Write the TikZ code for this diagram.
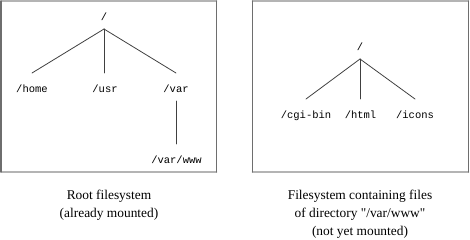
\documentclass[tikz,border=0pt]{standalone}
\usepackage{fontspec}
\setmainfont{Liberation Serif}
\setmonofont{Liberation Mono}
\usetikzlibrary{calc}

\definecolor{framelight}{HTML}{B4B4B4}
\definecolor{framedark}{HTML}{6E6E6E}

\begin{document}
\begin{tikzpicture}[
    x=1pt, y=-1pt,
    line cap=round,
    line join=round,
    dir/.style={font=\fontsize{10.5}{12}\selectfont\ttfamily, anchor=base,
        inner sep=0pt, text height=10pt, text depth=0pt, outer ysep=9pt},
    branch/.style={draw=black!75, line width=0.8pt},
    caption/.style={font=\fontsize{13.4}{18}\selectfont, align=center,
        anchor=base, inner sep=0pt}
]

% -----------------------
% Page
% -----------------------
\useasboundingbox (0,0) rectangle (470,239);

% -----------------------
% Frames
% -----------------------
\def\ftop{1}
\def\fbot{172}
\foreach \xa/\xb in {1/216.5, 252.5/468.5} {
    \draw[framelight, line width=1.6pt] (\xa,\ftop) -- (\xb,\ftop);
    \draw[framelight, line width=1.6pt] (\xa,\fbot) -- (\xb,\fbot);
    \draw[framedark, line width=1.2pt] (\xa,\ftop) -- (\xa,\fbot);
    \draw[framedark, line width=1.2pt] (\xb,\ftop) -- (\xb,\fbot);
}

% -----------------------
% Root filesystem
% -----------------------
\node[dir] (root)   at (104,20)  {/};
\node[dir] (home)   at (32,92)   {/home};
\node[dir] (usr)    at (105,92)  {/usr};
\node[dir] (var)    at (176,92)  {/var};
\node[dir] (varwww) at (176.5,163) {/var/www};

\draw[branch] (root.south) -- (home.north);
\draw[branch] (root.south) -- (usr.north -| root.south);
\draw[branch] (root.south) -- (var.north);
\draw[branch] (var.south) -- (varwww.north -| var.south);

% -----------------------
% Filesystem to mount
% -----------------------
\node[dir] (wroot)  at (360,50)  {/};
\node[dir] (cgibin) at (306,118) {/cgi-bin};
\node[dir] (html)   at (360.5,118) {/html};
\node[dir] (icons)  at (415,118) {/icons};

\draw[branch] (wroot.south) -- (cgibin.north);
\draw[branch] (wroot.south) -- (html.north -| wroot.south);
\draw[branch] (wroot.south) -- (icons.north);

% -----------------------
% Captions (base = last line)
% -----------------------
\node[caption] (rootcap) at (109,217) {Root filesystem\\(already mounted)};
\node[caption] (wwwcap)  at (360,235) {Filesystem containing files\\of directory \textquotedbl/var/www\textquotedbl\\(not yet mounted)};

\end{tikzpicture}
\end{document}
